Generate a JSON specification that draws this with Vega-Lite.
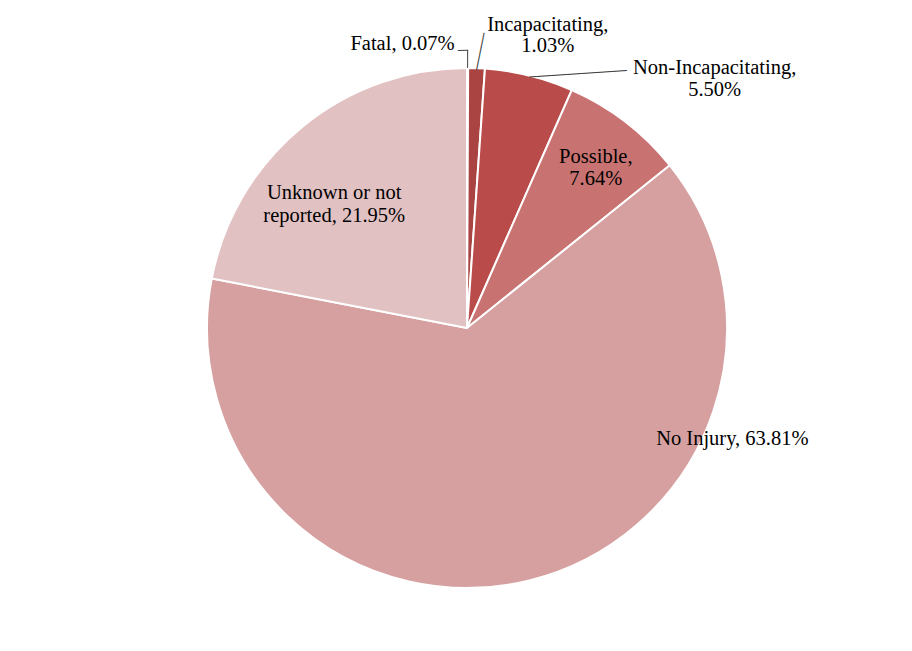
{
  "$schema": "https://vega.github.io/schema/vega-lite/v6.json",
  "width": 912,
  "height": 651,
  "autosize": {"type": "fit", "contains": "padding"},
  "padding": {"left": 22, "top": 5, "right": 0, "bottom": 0},
  "background": "white",
  "view": {"stroke": null},
  "data": {"values": [
    {"cat": "Fatal", "pct": 0.07, "idx": 1, "label": "Fatal, 0.07%"},
    {"cat": "Incapacitating", "pct": 1.03, "idx": 2, "label": "Incapacitating,\n1.03%"},
    {"cat": "Non-Incapacitating", "pct": 5.50, "idx": 3, "label": "Non-Incapacitating,\n5.50%"},
    {"cat": "Possible", "pct": 7.64, "idx": 4, "label": "Possible,\n7.64%"},
    {"cat": "No Injury", "pct": 63.81, "idx": 5, "label": "No Injury, 63.81%"},
    {"cat": "Unknown or not reported", "pct": 21.95, "idx": 6, "label": "Unknown or not\nreported, 21.95%"}
  ]},
  "layer": [
    {
      "mark": {"type": "arc", "radius": 260, "stroke": "white", "strokeWidth": 2},
      "encoding": {
        "theta": {"field": "pct", "type": "quantitative", "stack": true},
        "order": {"field": "idx", "type": "quantitative"},
        "color": {"field": "cat", "type": "nominal", "legend": null,
          "scale": {"domain": ["Fatal", "Incapacitating", "Non-Incapacitating", "Possible", "No Injury", "Unknown or not reported"],
                    "range": ["#8e3331", "#a94443", "#b94c4a", "#c87371", "#d6a0a0", "#e2c1c2"]}}
      }
    },
    {
      "transform": [{"filter": "datum.cat === 'Fatal'"}],
      "mark": {"type": "arc", "color": "#404040"},
      "encoding": {"theta": {"value": 0.0005}, "theta2": {"value": 0.0042}, "radius": {"value": 260}, "radius2": {"value": 278}}
    },
    {
      "transform": [{"filter": "datum.cat === 'Fatal'"}],
      "mark": {"type": "arc", "color": "#404040"},
      "encoding": {"theta": {"value": -0.033}, "theta2": {"value": 0.0042}, "radius": {"value": 277.2}, "radius2": {"value": 278.2}}
    },
    {
      "transform": [{"filter": "datum.cat === 'Incapacitating'"}],
      "mark": {"type": "text", "font": "DejaVu Sans", "fontSize": 12.5, "color": "#404040", "align": "center", "baseline": "middle", "angle": -78.4, "radius": 276.8},
      "encoding": {"theta": {"value": 0.0488}, "text": {"value": "─────"}}
    },
    {
      "transform": [{"filter": "datum.cat === 'Non-Incapacitating'"}],
      "mark": {"type": "text", "font": "DejaVu Sans", "fontSize": 12.5, "color": "#404040", "align": "center", "baseline": "middle", "angle": -3.9, "radius": 277.2},
      "encoding": {"theta": {"value": 0.4122}, "text": {"value": "─────────────"}}
    },
    {
      "mark": {"type": "text", "font": "Liberation Serif", "fontSize": 20.5, "color": "black", "align": "right", "baseline": "middle", "radius": 284, "dx": -13},
      "encoding": {
        "theta": {"field": "pct", "type": "quantitative", "stack": true},
        "order": {"field": "idx", "type": "quantitative"},
        "detail": {"field": "cat"},
        "text": {"condition": {"test": "datum.cat === 'Fatal'", "field": "label"}, "value": ""}
      }
    },
    {
      "mark": {"type": "text", "font": "Liberation Serif", "fontSize": 20.5, "color": "black", "align": "center", "baseline": "middle", "lineBreak": "\n", "lineHeight": 21, "radius": 294, "dx": 70, "dy": -9},
      "encoding": {
        "theta": {"field": "pct", "type": "quantitative", "stack": true},
        "order": {"field": "idx", "type": "quantitative"},
        "detail": {"field": "cat"},
        "text": {"condition": {"test": "datum.cat === 'Incapacitating'", "field": "label"}, "value": ""}
      }
    },
    {
      "mark": {"type": "text", "font": "Liberation Serif", "fontSize": 20.5, "color": "black", "align": "center", "baseline": "middle", "lineBreak": "\n", "lineHeight": 22, "radius": 257.5, "dx": 186, "dy": -10},
      "encoding": {
        "theta": {"field": "pct", "type": "quantitative", "stack": true},
        "order": {"field": "idx", "type": "quantitative"},
        "detail": {"field": "cat"},
        "text": {"condition": {"test": "datum.cat === 'Non-Incapacitating'", "field": "label"}, "value": ""}
      }
    },
    {
      "mark": {"type": "text", "font": "Liberation Serif", "fontSize": 20.5, "color": "black", "align": "center", "baseline": "middle", "lineBreak": "\n", "lineHeight": 22, "radius": 205, "dx": 4, "dy": -8},
      "encoding": {
        "theta": {"field": "pct", "type": "quantitative", "stack": true},
        "order": {"field": "idx", "type": "quantitative"},
        "detail": {"field": "cat"},
        "text": {"condition": {"test": "datum.cat === 'Possible'", "field": "label"}, "value": ""}
      }
    },
    {
      "mark": {"type": "text", "font": "Liberation Serif", "fontSize": 20.5, "color": "black", "align": "center", "baseline": "middle", "lineBreak": "\n", "lineHeight": 23.5, "radius": 160, "dx": -31, "dy": -12},
      "encoding": {
        "theta": {"field": "pct", "type": "quantitative", "stack": true},
        "order": {"field": "idx", "type": "quantitative"},
        "detail": {"field": "cat"},
        "text": {"condition": {"test": "datum.cat === 'Unknown or not reported'", "field": "label"}, "value": ""}
      }
    },
    {
      "mark": {"type": "text", "font": "Liberation Serif", "fontSize": 20.5, "color": "black", "align": "center", "baseline": "middle", "radius": 114, "dx": 238},
      "encoding": {
        "theta": {"field": "pct", "type": "quantitative", "stack": true},
        "order": {"field": "idx", "type": "quantitative"},
        "detail": {"field": "cat"},
        "text": {"condition": {"test": "datum.cat === 'No Injury'", "field": "label"}, "value": ""}
      }
    }
  ]
}
